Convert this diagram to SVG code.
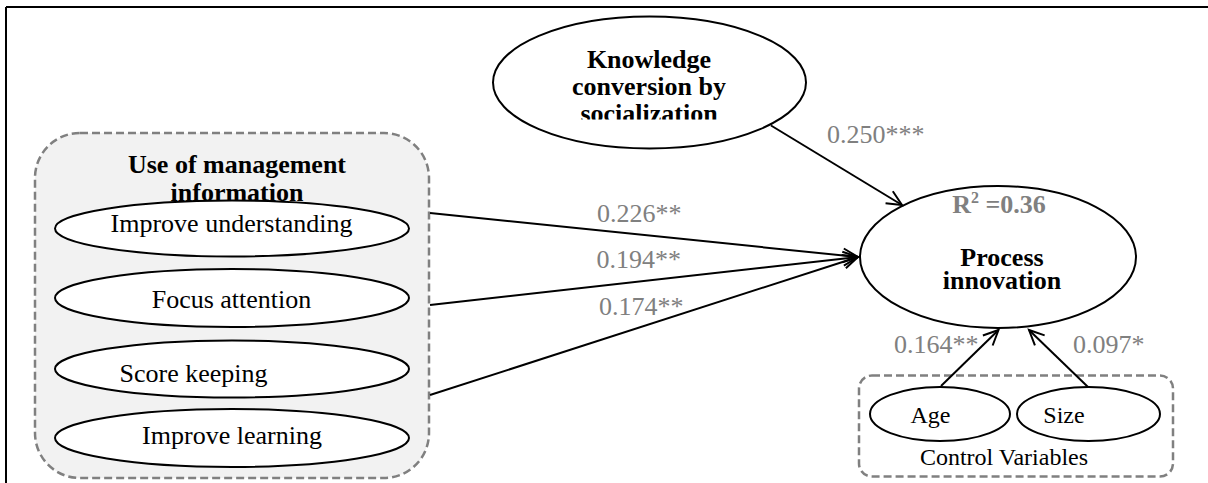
<svg xmlns="http://www.w3.org/2000/svg" width="1208" height="483" viewBox="0 0 1208 483">
<style>
.t{font-family:"Liberation Serif","Times New Roman",serif;font-size:26px;fill:#000}
.b{font-weight:bold}
.g{fill:#808080}
.s{font-size:24px}
.el{fill:#fff;stroke:#000;stroke-width:2}
.grp{stroke:#808080;stroke-width:2.5;stroke-dasharray:8 4}
.c{stroke:#000;stroke-width:2;fill:none}
</style>
<defs>
<marker id="ah" markerUnits="userSpaceOnUse" markerWidth="18" markerHeight="18" refX="16" refY="8" orient="auto" overflow="visible">
<path d="M1,1 L16,8 L1,15" fill="none" stroke="#000" stroke-width="2"/>
</marker>
<clipPath id="kclip"><rect x="480" y="0" width="340" height="119.5"/></clipPath>
</defs>
<g id="frame"><path d="M6,7 H1208 M6,7 V483" stroke="#000" stroke-width="2" fill="none"/></g>

<g id="knowledge">
<ellipse class="el" cx="649.5" cy="82.5" rx="156.5" ry="66"/>
<g clip-path="url(#kclip)">
<text class="t b" x="649" y="68" text-anchor="middle">Knowledge</text>
<text class="t b" x="649" y="95" text-anchor="middle">conversion by</text>
<text class="t b" x="649" y="121.5" text-anchor="middle">socialization</text>
</g>
</g>

<g id="use-of-management-information">
<rect class="grp" x="35" y="133" width="394" height="345" rx="45" ry="45" fill="#f2f2f2"/>
<text class="t b" x="237" y="173" text-anchor="middle">Use of management</text>
<text class="t b" x="237" y="200.5" text-anchor="middle">information</text>
<g id="improve-understanding">
<ellipse class="el" cx="232" cy="228.5" rx="177" ry="28"/>
<text class="t" x="231.5" y="232" text-anchor="middle">Improve understanding</text>
</g>
<g id="focus-attention">
<ellipse class="el" cx="232" cy="298" rx="177" ry="29"/>
<text class="t" x="231.5" y="308" text-anchor="middle">Focus attention</text>
</g>
<g id="score-keeping">
<ellipse class="el" cx="232" cy="369" rx="177" ry="28.5"/>
<text class="t" x="193.5" y="382" text-anchor="middle">Score keeping</text>
</g>
<g id="improve-learning">
<ellipse class="el" cx="232" cy="438" rx="177" ry="29"/>
<text class="t" x="232" y="443.5" text-anchor="middle">Improve learning</text>
</g>
</g>

<g id="process-innovation">
<ellipse class="el" cx="998" cy="257" rx="138" ry="71"/>
<text class="t b g" x="999" y="213" text-anchor="middle">R<tspan font-size="16" dy="-10">2</tspan><tspan dy="10"> =0.36</tspan></text>
<text class="t b" x="1002" y="266" text-anchor="middle">Process</text>
<text class="t b" x="1002" y="289" text-anchor="middle">innovation</text>
</g>

<g id="control-variables">
<rect class="grp" x="859" y="375.5" width="314" height="101" rx="13" ry="13" fill="#fff"/>
<g id="age">
<ellipse class="el" cx="940" cy="414" rx="70" ry="27"/>
<text class="t s" x="930.5" y="423" text-anchor="middle">Age</text>
</g>
<g id="size">
<ellipse class="el" cx="1088.5" cy="414" rx="71.5" ry="27"/>
<text class="t s" x="1064" y="423" text-anchor="middle">Size</text>
</g>
<text class="t s" x="1004" y="465" text-anchor="middle">Control Variables</text>
</g>

<g id="connectors">
<line class="c" x1="771" y1="125.5" x2="902" y2="205" marker-end="url(#ah)"/>
<line class="c" x1="430" y1="213" x2="858" y2="257" marker-end="url(#ah)"/>
<line class="c" x1="430" y1="305" x2="858" y2="257" marker-end="url(#ah)"/>
<line class="c" x1="430" y1="395" x2="858" y2="257" marker-end="url(#ah)"/>
<line class="c" x1="941" y1="386" x2="998.5" y2="330" marker-end="url(#ah)"/>
<line class="c" x1="1088" y1="387" x2="1029" y2="330" marker-end="url(#ah)"/>
</g>

<g id="labels">
<text class="t g" x="827" y="143">0.250***</text>
<text class="t g" x="597" y="222">0.226**</text>
<text class="t g" x="596.5" y="268">0.194**</text>
<text class="t g" x="599" y="315">0.174**</text>
<text class="t g" x="894" y="353">0.164**</text>
<text class="t g" x="1073" y="353">0.097*</text>
</g>
</svg>
